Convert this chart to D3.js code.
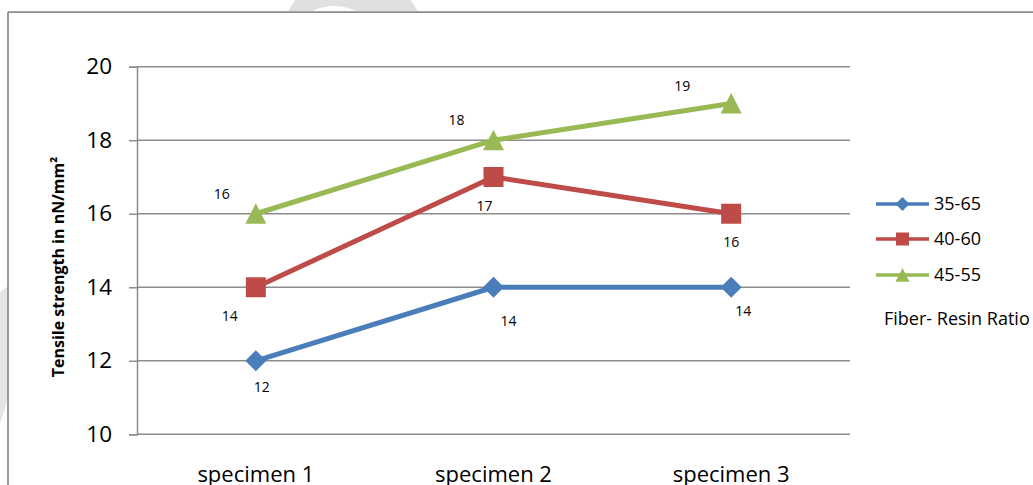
<!DOCTYPE html>
<html>
<head>
<meta charset="utf-8">
<script src="https://cdn.jsdelivr.net/npm/d3@7"></script>
<style>
  html, body { margin: 0; padding: 0; background: #fff; }
  svg { display: block; }
  text { font-family: "Open Sans", "Noto Sans", sans-serif; fill: #000; }
</style>
</head>
<body>
<svg id="chart" width="1033" height="485"></svg>
<script>
// Specimens along the horizontal axis
const categories = ["specimen 1", "specimen 2", "specimen 3"];

// Fiber-resin ratio series (tensile strength, nN/mm²)
const seriesNames = ["35-65", "40-60", "45-55"];
const ratio3565 = [12, 14, 14];
const ratio4060 = [14, 17, 16];
const ratio4555 = [16, 18, 19];

// Value axis ticks
const yTicks = [10, 12, 14, 16, 18, 20];

const yTitle = "Tensile strength in nN/mm²";
const legendTitle = "Fiber- Resin Ratio";

// Presentation: colours, markers and where each value label sits
const colors = ["#4a7ebb", "#be4b48", "#98b954"];
const markers = ["diamond", "square", "triangle"];
const labelOffsets = [
  [[6, 31], [15, 39], [12, 29]],
  [[-26, 34], [-9, 34], [0, 33]],
  [[-34, -15], [-37, -15], [-49, -12]]
];

const seriesValues = [ratio3565, ratio4060, ratio4555];
const series = seriesNames.map((name, i) => ({
  name,
  color: colors[i],
  marker: markers[i],
  points: categories.map((c, j) => ({ cat: c, value: seriesValues[i][j], off: labelOffsets[i][j] }))
}));

const svg = d3.select("#chart");
const gridColor = "#8c8c8c";

// Faint watermark pieces showing outside the chart frame
const wm = svg.append("g");
wm.append("clipPath").attr("id", "topClip")
  .append("rect").attr("x", 0).attr("y", 0).attr("width", 1033).attr("height", 11);
const ring = wm.append("g").attr("clip-path", "url(#topClip)");
ring.append("circle").attr("cx", 353).attr("cy", 45).attr("r", 73).attr("fill", "#e0e0e0");
ring.append("circle").attr("cx", 334).attr("cy", 55).attr("r", 49).attr("fill", "#fff");
wm.append("polygon").attr("points", "0,292 8,286 8,398 0,424").attr("fill", "#e5e5e5");

// Chart frame (top and left edges visible)
svg.append("line").attr("x1", 8).attr("x2", 1033).attr("y1", 12).attr("y2", 12)
  .attr("stroke", gridColor).attr("stroke-width", 1.75);
svg.append("line").attr("x1", 8).attr("x2", 8).attr("y1", 12).attr("y2", 485)
  .attr("stroke", gridColor).attr("stroke-width", 1.75);

const x = d3.scalePoint().domain(categories).range([137, 850]).padding(0.5);
const y = d3.scaleLinear().domain([10, 20]).range([434.3, 66.7]);

// Horizontal gridlines
svg.append("g").selectAll("line").data(yTicks).join("line")
  .attr("x1", 137).attr("x2", 850)
  .attr("y1", d => y(d)).attr("y2", d => y(d))
  .attr("stroke", gridColor).attr("stroke-width", 1.5);

// Value axis
const yAxis = svg.append("g").attr("transform", "translate(137,0)")
  .call(d3.axisLeft(y).tickValues(yTicks).tickSize(8).tickPadding(17).tickFormat(d3.format("d")));
yAxis.select(".domain").attr("stroke", gridColor).attr("stroke-width", 1.5);
yAxis.selectAll(".tick line").attr("stroke", gridColor).attr("stroke-width", 1.5);
yAxis.selectAll(".tick text").attr("font-size", 22.5).attr("font-family", "'Open Sans', sans-serif").attr("fill", "#000");

// Category axis labels
svg.append("g").selectAll("text").data(categories).join("text")
  .attr("x", d => x(d)).attr("y", 482)
  .attr("text-anchor", "middle").attr("font-size", 22)
  .text(d => d);

// Axis title
svg.append("text")
  .attr("transform", "translate(64,267) rotate(-90)")
  .attr("text-anchor", "middle").attr("font-size", 16).attr("font-weight", "bold")
  .text(yTitle);

function markerPath(type, s) {
  if (type === "diamond") return `M0,${-s}L${s},0L0,${s}L${-s},0Z`;
  if (type === "square") return `M${-s},${-s}H${s}V${s}H${-s}Z`;
  return `M0,${-s}L${s},${s * 0.95}L${-s},${s * 0.95}Z`;
}
const markerSize = { diamond: 10.5, square: 10, triangle: 10.5 };

const line = d3.line().x(d => x(d.cat)).y(d => y(d.value));

const sg = svg.append("g").selectAll("g").data(series).join("g");
sg.append("path")
  .attr("d", d => line(d.points))
  .attr("fill", "none").attr("stroke", d => d.color).attr("stroke-width", 5)
  .attr("stroke-linejoin", "round");
sg.each(function (s) {
  const g = d3.select(this);
  g.selectAll("path.mk").data(s.points).join("path").attr("class", "mk")
    .attr("transform", d => `translate(${x(d.cat)},${y(d.value)})`)
    .attr("d", markerPath(s.marker, markerSize[s.marker]))
    .attr("fill", s.color);
  g.selectAll("text.lbl").data(s.points).join("text").attr("class", "lbl")
    .attr("x", d => x(d.cat) + d.off[0]).attr("y", d => y(d.value) + d.off[1])
    .attr("text-anchor", "middle").attr("font-size", 14)
    .text(d => d.value);
});

// Legend
const legendRowsY = [204, 239, 275];
const lg = svg.append("g").selectAll("g").data(series).join("g")
  .attr("transform", (d, i) => `translate(876,${legendRowsY[i]})`);
lg.append("line").attr("x1", 0).attr("x2", 53).attr("y1", 0).attr("y2", 0)
  .attr("stroke", d => d.color).attr("stroke-width", 3.5);
lg.append("path").attr("transform", "translate(26.5,0)")
  .attr("d", d => markerPath(d.marker, d.marker === "square" ? 6.5 : 7))
  .attr("fill", d => d.color);
lg.append("text").attr("x", 58).attr("y", 0).attr("dy", "0.36em")
  .attr("font-size", 18).text(d => d.name);

svg.append("text").attr("x", 884).attr("y", 325).attr("font-size", 18).text(legendTitle);
</script>
</body>
</html>
